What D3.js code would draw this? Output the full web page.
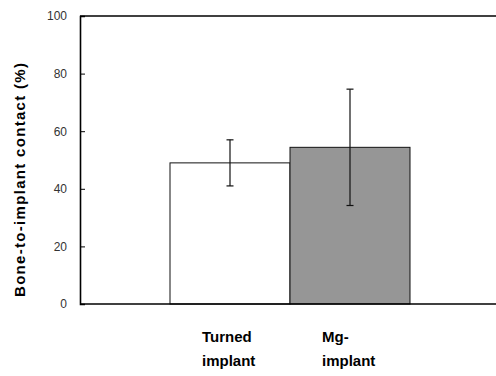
<!DOCTYPE html>
<html>
<head>
<meta charset="utf-8">
<script src="https://cdn.jsdelivr.net/npm/d3@7"></script>
<style>
  body { margin: 0; background: #fff; }
  svg { display: block; }
</style>
</head>
<body>
<div id="chart"></div>
<script>
// data
const categories = ['Turned implant', 'Mg-implant'];
const labelLines = [['Turned', 'implant'], ['Mg-', 'implant']];
const values = [49, 54.4];
const errors = [8, 20.2];
const fills = ['#ffffff', '#969696'];
const yTicks = [0, 20, 40, 60, 80, 100];

const width = 496, height = 376;
const margin = { top: 16, right: -4, bottom: 72, left: 80 };

const svg = d3.select('#chart')
  .append('svg')
  .attr('width', width)
  .attr('height', height);

const x = d3.scaleBand()
  .domain(categories)
  .range([margin.left, width - margin.right])
  .paddingInner(0)
  .paddingOuter(0.75);

const y = d3.scaleLinear()
  .domain([0, 100])
  .range([height - margin.bottom, margin.top]);

// bars
svg.selectAll('.bar')
  .data(categories)
  .enter()
  .append('rect')
  .attr('x', d => x(d))
  .attr('y', (d, i) => y(values[i]))
  .attr('width', x.bandwidth())
  .attr('height', (d, i) => y(0) - y(values[i]))
  .attr('fill', (d, i) => fills[i])
  .attr('stroke', '#111')
  .attr('stroke-width', 1);

// error bars
const eb = svg.selectAll('.err')
  .data(categories)
  .enter()
  .append('g')
  .attr('stroke', '#111')
  .attr('stroke-width', 1.2);

eb.append('line')
  .attr('x1', d => x(d) + x.bandwidth() / 2)
  .attr('x2', d => x(d) + x.bandwidth() / 2)
  .attr('y1', (d, i) => y(values[i] + errors[i]))
  .attr('y2', (d, i) => y(values[i] - errors[i]));

[1, -1].forEach(s => {
  eb.append('line')
    .attr('x1', d => x(d) + x.bandwidth() / 2 - 3.5)
    .attr('x2', d => x(d) + x.bandwidth() / 2 + 3.5)
    .attr('y1', (d, i) => y(values[i] + s * errors[i]))
    .attr('y2', (d, i) => y(values[i] + s * errors[i]));
});

// frame: top and bottom lines
svg.append('line')
  .attr('x1', margin.left).attr('x2', width)
  .attr('y1', y(100)).attr('y2', y(100))
  .attr('stroke', '#000').attr('stroke-width', 1.6);
svg.append('line')
  .attr('x1', margin.left).attr('x2', width)
  .attr('y1', y(0)).attr('y2', y(0))
  .attr('stroke', '#000').attr('stroke-width', 1.6);

// y axis, ticks pointing inward
const yAxis = svg.append('g')
  .attr('transform', `translate(${margin.left},0)`)
  .call(d3.axisLeft(y).tickValues(yTicks).tickSize(-5).tickPadding(13));
yAxis.select('.domain').attr('stroke', '#000').attr('stroke-width', 1.6);
yAxis.selectAll('.tick line').attr('stroke', '#000');
yAxis.selectAll('.tick text')
  .attr('font-family', 'Liberation Sans, Arial, sans-serif')
  .attr('font-size', 12)
  .attr('fill', '#333');

// y axis title
svg.append('text')
  .attr('transform', 'translate(25,180) rotate(-90)')
  .attr('text-anchor', 'middle')
  .attr('font-family', 'Liberation Sans, Arial, sans-serif')
  .attr('font-size', 15)
  .attr('font-weight', 'bold')
  .attr('textLength', 234)
  .attr('lengthAdjust', 'spacing')
  .text('Bone-to-implant contact (%)');

// category labels
categories.forEach((c, i) => {
  const t = svg.append('text')
    .attr('font-family', 'Liberation Sans, Arial, sans-serif')
    .attr('font-size', 15)
    .attr('font-weight', 'bold');
  labelLines[i].forEach((line, j) => {
    t.append('tspan')
      .attr('x', x(c) + x.bandwidth() / 2 - 28)
      .attr('y', 342 + j * 24)
      .text(line);
  });
});
</script>
</body>
</html>
